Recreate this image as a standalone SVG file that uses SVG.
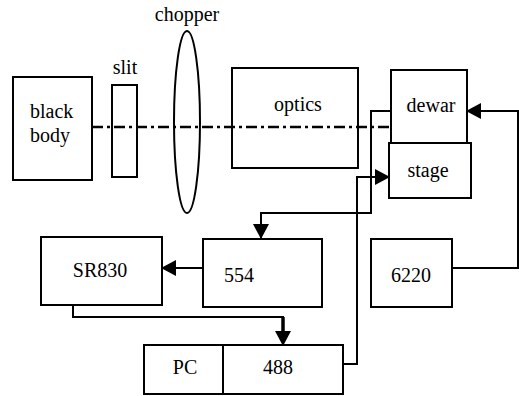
<svg xmlns="http://www.w3.org/2000/svg" width="519" height="396" viewBox="0 0 519 396">
<style>
.b{fill:none;stroke:#000;stroke-width:2}
.w{fill:#fff}
text{font-family:'Liberation Serif','Times New Roman',Times,serif;font-size:20px;fill:#000}
.c{fill:none;stroke:#000;stroke-width:2}
</style>
<defs>
<marker id="a" markerUnits="userSpaceOnUse" markerWidth="16" markerHeight="16" refX="14" refY="8" orient="auto">
<path d="M0,0 L15,8 L0,16 Z" fill="#000"/>
</marker>
</defs>
<rect width="519" height="396" fill="#fff"/>
<g id="axis">
<line x1="92" y1="127" x2="390" y2="127" stroke="#000" stroke-width="2.5" stroke-dasharray="11 4 3 4"/>
</g>
<g id="blackbody"><rect class="b" x="13" y="77" width="79" height="103"/><text x="30" y="118">black</text><text x="30" y="142">body</text></g>
<g id="slit"><rect class="b" x="112" y="85" width="25" height="92"/><text x="125" y="74" text-anchor="middle">slit</text></g>
<g id="chopper"><ellipse class="b" cx="187" cy="122" rx="13" ry="91"/><text x="187" y="21" text-anchor="middle">chopper</text></g>
<g id="optics"><rect class="b" x="232" y="68" width="126" height="100"/><text x="298" y="111" text-anchor="middle">optics</text></g>
<g id="dewar"><rect class="b w" x="391" y="70" width="76" height="73"/><text x="431" y="112" text-anchor="middle">dewar</text></g>
<g id="stage"><rect class="b w" x="389" y="143" width="82" height="55"/><text x="428" y="177" text-anchor="middle">stage</text></g>
<g id="sr830"><rect class="b" x="41" y="237" width="121" height="68"/><text x="100" y="277" text-anchor="middle">SR830</text></g>
<g id="n554"><rect class="b" x="203" y="239" width="119" height="68"/><text x="239" y="282" text-anchor="middle">554</text></g>
<g id="n6220"><rect class="b" x="371" y="239" width="81" height="68"/><text x="411" y="282" text-anchor="middle">6220</text></g>
<g id="pc"><rect class="b" x="144" y="345" width="79" height="49"/><text x="185" y="374" text-anchor="middle">PC</text></g>
<g id="n488"><rect class="b" x="223" y="345" width="120" height="49"/><text x="278" y="374" text-anchor="middle">488</text></g>
<g id="connectors">
<polyline class="c" points="391,111 371,111 371,213 261,213 261,238" marker-end="url(#a)"/>
<polyline class="c" points="342,364 357,364 357,177 389,177" marker-end="url(#a)"/>
<polyline class="c" points="452,268 518,268 518,111 467,111" marker-end="url(#a)"/>
<polyline class="c" stroke-width="3.5" points="203,268 162,268" marker-end="url(#a)"/>
<polyline class="c" points="73,305 73,317 283,317 283,345" marker-end="url(#a)"/>
<line x1="283" y1="317" x2="283" y2="333" stroke="#000" stroke-width="3.5"/>
</g>
</svg>
